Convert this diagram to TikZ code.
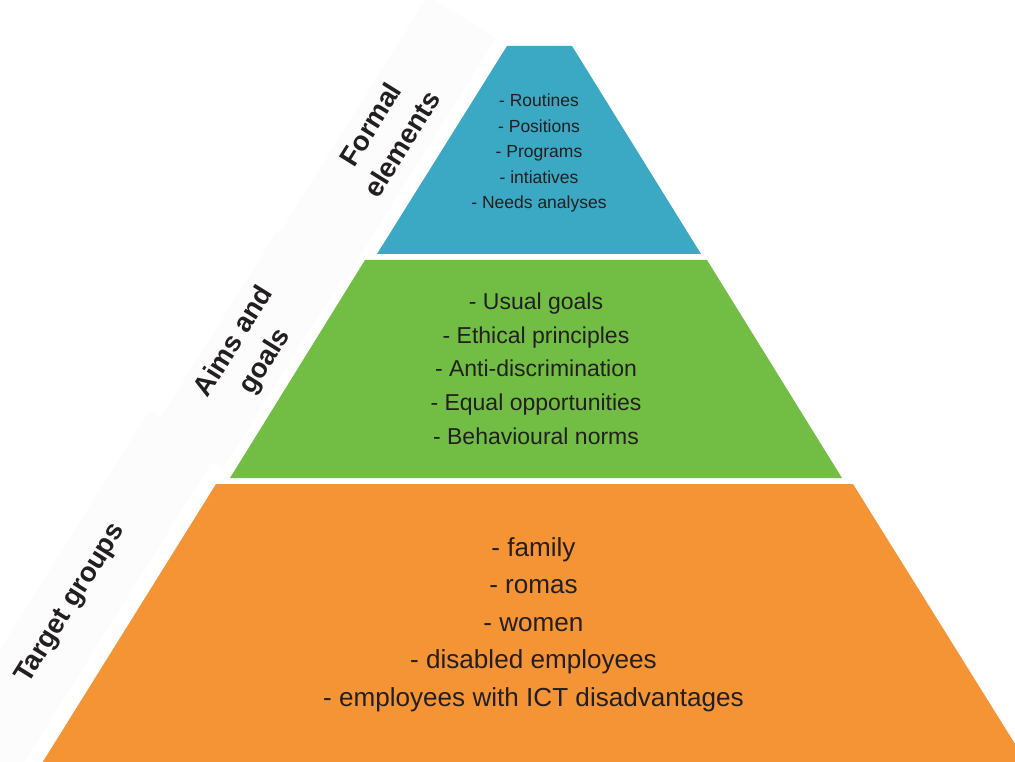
\documentclass[tikz,border=0pt]{standalone}
\usepackage{fontspec}
\setmainfont{Liberation Sans}
\definecolor{tblue}{HTML}{3BA8C4}
\definecolor{tgreen}{HTML}{72BE44}
\definecolor{torange}{HTML}{F59435}
\definecolor{ttext}{HTML}{231F20}
\definecolor{tband}{HTML}{FCFCFC}
\begin{document}
\begin{tikzpicture}[x=1pt,y=-1pt,
  band/.style={rectangle, fill=tband, rotate=58, minimum height=80pt, inner sep=0pt},
  lbl/.style={align=center, rotate=58, text=ttext, font=\bfseries\fontsize{27.5}{37}\selectfont, inner sep=0pt},
  tiertext/.style={align=center, text=ttext, inner sep=0pt}]
\useasboundingbox (0,0) rectangle (1015,762);
\clip (0,0) rectangle (1015,762);
\fill[white] (0,0) rectangle (1015,762);
% faint label bands
\node[band, minimum width=290pt] (bandF) at (385,140) {};
\node[band, minimum width=230pt] (bandA) at (250,350) {};
\node[band, minimum width=420pt] (bandT) at (72,610) {};
% tiers
\fill[tblue] (507,46) -- (572,46) -- (701,254) -- (377,254) -- cycle;
\fill[tgreen] (365,260) -- (707,260) -- (842,478) -- (230,478) -- cycle;
\fill[torange] (216,484) -- (853,484) -- (1035,776) -- (34,776) -- cycle;
% tier texts
\node[tiertext, font=\fontsize{17.5}{25.5}\selectfont] (tF) at (539,153)
  {- Routines\\- Positions\\- Programs\\- intiatives\\- Needs analyses};
\node[tiertext, font=\fontsize{23}{33.7}\selectfont] (tA) at (536,368.5)
  {- Usual goals\\- Ethical principles\\- Anti-discrimination\\- Equal opportunities\\- Behavioural norms};
\node[tiertext, font=\fontsize{26.1}{37.5}\selectfont] (tT) at (533.5,624.5)
  {- family\\- romas\\- women\\- disabled employees\\- employees with ICT disadvantages};
% labels
\node[lbl] (lF) at (386,134) {Formal\\elements};
\node[lbl] (lA) at (250,352) {Aims and\\goals};
\node[lbl] (lT) at (71,604) {Target groups};
\end{tikzpicture}
\end{document}
